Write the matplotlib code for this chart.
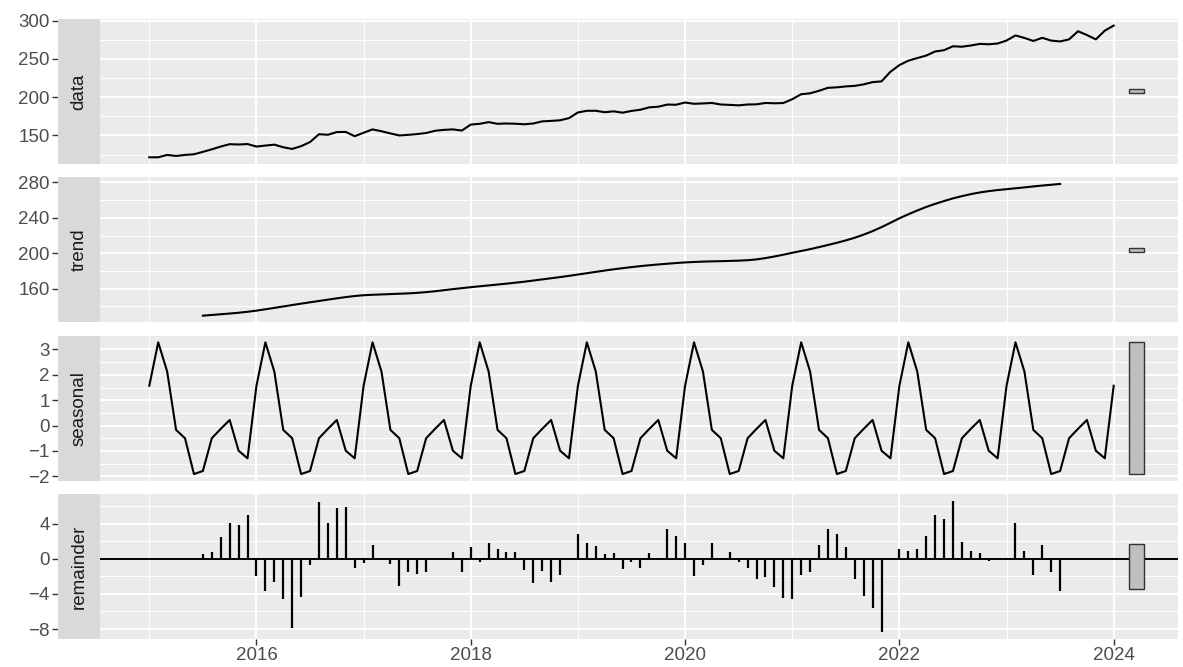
import numpy as np
import matplotlib
matplotlib.use("Agg")
import matplotlib.pyplot as plt
from matplotlib.patches import Rectangle

# monthly series, Jan 2015 .. Jan 2024
start_year = 2015
data_values = [
    121.5, 121.5, 124.6, 123.2, 124.6, 125.4, 128.6, 131.9, 135.5, 138.6, 138.2, 138.8,
    135.5, 136.8, 138.0, 134.6, 132.4, 136.0, 141.4, 151.6, 150.9, 154.4, 154.6, 149.0,
    153.5, 157.9, 155.5, 152.6, 150.0, 150.8, 151.8, 153.2, 156.1, 157.3, 157.9, 156.4,
    164.2, 165.2, 167.4, 165.2, 165.6, 165.3, 164.6, 165.6, 168.4, 169.0, 169.8, 172.6,
    180.0, 182.2, 182.2, 180.3, 181.5, 179.7, 182.0, 183.6, 186.7, 187.5, 190.3, 190.1,
    193.0, 191.3, 191.8, 192.4, 190.4, 189.9, 189.3, 190.4, 190.6, 192.4, 192.0, 192.3,
    197.3, 203.8, 205.0, 208.3, 212.2, 212.8, 214.0, 214.7, 216.7, 219.6, 220.6, 233.2,
    241.8, 247.6, 251.0, 254.2, 259.6, 261.3, 266.4, 265.8, 267.4, 269.5, 269.0, 270.0,
    273.9, 280.5, 277.3, 273.3, 277.4, 273.8, 272.7, 275.4, 286.0, 281.1, 275.4, 286.8,
    293.4,
]

# trend (Jul 2015 .. Jul 2023)
trend_offset = 6
trend_values = [
    129.4, 130.2, 131.0, 131.8, 132.7, 133.8,
    135.1, 136.6, 138.2, 139.8, 141.4, 143.0, 144.5, 146.0, 147.5, 149.0, 150.4, 151.6,
    152.5, 153.0, 153.4, 153.8, 154.2, 154.6, 155.2, 156.0, 157.0, 158.2, 159.4, 160.5,
    161.6, 162.6, 163.6, 164.6, 165.6, 166.7, 167.8, 169.1, 170.4, 171.7, 173.0, 174.4,
    175.9, 177.4, 178.9, 180.4, 181.8, 183.1, 184.3, 185.4, 186.4, 187.3, 188.1, 188.9,
    189.6, 190.1, 190.5, 190.8, 191.0, 191.3, 191.6, 192.1, 193.0, 194.5, 196.3, 198.3,
    200.5, 202.5, 204.6, 206.9, 209.3, 211.8, 214.5, 217.5, 221.0, 225.0, 229.5, 234.4,
    239.5, 244.0, 248.3, 252.3, 255.8, 259.0, 262.0, 264.5, 266.8, 268.7, 270.2, 271.4,
    272.4, 273.4, 274.4, 275.5, 276.5, 277.4, 278.3,
]

# seasonal figure, Jan .. Dec
seasonal_pattern = [1.57, 3.28, 2.13, -0.17, -0.5, -1.91, -1.79, -0.5, -0.13, 0.22, -0.99, -1.29]

remainder_values = [
    0.56, 0.82, 2.5, 4.04, 3.8, 4.97,
    -1.94, -3.66, -2.62, -4.56, -7.85, -4.3, -0.67, 6.47, 4.11, 5.79, 5.87, -1.05,
    -0.45, 1.61, 0.05, -0.56, -3.07, -1.5, -1.68, -1.5, -0.05, 0.02, 0.75, -1.53,
    1.38, -0.37, 1.76, 1.12, 0.82, 0.75, -1.31, -2.8, -1.38, -2.62, -1.87, -0.1,
    2.8, 1.79, 1.5, 0.49, 0.64, -1.12, -0.37, -1.07, 0.65, 0.05, 3.43, 2.6,
    1.8, -2.02, -0.76, 1.8, 0.0, 0.76, -0.38, -1.07, -2.36, -2.1, -3.16, -4.46,
    -4.57, -1.83, -1.52, 1.52, 3.43, 2.86, 1.33, -2.29, -4.19, -5.64, -8.38, 0.05,
    1.07, 0.84, 1.07, 2.6, 5.03, 4.5, 6.6, 1.9, 0.84, 0.69, -0.23, 0.02,
    0.05, 4.1, 0.84, -1.9, 1.52, -1.52, -3.7,
]

panel_names = ["data", "trend", "seasonal", "remainder"]
y_ticks = [[150, 200, 250, 300], [160, 200, 240, 280], [-2, -1, 0, 1, 2, 3], [-8, -4, 0, 4]]
y_minor = [[125, 175, 225, 275], [140, 180, 220, 260],
           [-1.5, -0.5, 0.5, 1.5, 2.5], [-6, -2, 2, 6]]
x_ticks = [2016, 2018, 2020, 2022, 2024]
x_minor = [2015, 2017, 2019, 2021, 2023]

n = len(data_values)
t = start_year + np.arange(n) / 12.0
t_trend = t[trend_offset:trend_offset + len(trend_values)]
seasonal_values = np.resize(seasonal_pattern, n)

series = [
    (t, np.array(data_values)),
    (t_trend, np.array(trend_values)),
    (t, seasonal_values),
    (t_trend, np.array(remainder_values)),
]

# range bars: same height in every panel
ranges = [(v.min(), v.max()) for _, v in series]
bar_half = min(hi - lo for lo, hi in ranges) / 2
bar_w = (t[-1] - t[0]) / 64
bar_left = t[-1] + bar_w

W, H = 1183, 667
fig = plt.figure(figsize=(W / 100, H / 100), dpi=100)
plt.rcParams["font.family"] = ["Liberation Sans", "DejaVu Sans"]

panel_left, panel_right = 100, 1178
strip_w = 42
top, bottom, gap = 19, 639, 13.5
ph = (bottom - top - 3 * gap) / 4

for k, name in enumerate(panel_names):
    y0 = top + k * (ph + gap)
    rect = [panel_left / W, 1 - (y0 + ph) / H, (panel_right - panel_left) / W, ph / H]
    ax = fig.add_axes(rect)
    ax.set_facecolor("#EBEBEB")
    for s in ax.spines.values():
        s.set_visible(False)

    x, v = series[k]
    lo, hi = ranges[k]
    pad = (hi - lo) * 0.05
    ax.set_ylim(lo - pad, hi + pad)
    ax.set_xlim(2014.54, 2024.60)

    ax.set_yticks(y_ticks[k])
    ax.set_yticks(y_minor[k], minor=True)
    ax.set_xticks(x_ticks)
    ax.set_xticks(x_minor, minor=True)
    ax.grid(which="major", color="white", lw=1.4)
    ax.grid(which="minor", color="white", lw=0.7)
    ax.set_axisbelow(True)

    if name == "remainder":
        ax.axhline(0, color="black", lw=1.4, zorder=2)
        ax.vlines(x, 0, v, color="black", lw=1.6, zorder=3)
    else:
        ax.plot(x, v, color="black", lw=1.5, zorder=3)

    mid = (lo + hi) / 2
    ax.add_patch(Rectangle((bar_left, mid - bar_half), bar_w, 2 * bar_half,
                           facecolor="#BFBFBF", edgecolor="#333333", lw=1.0, zorder=4))

    ax.spines["left"].set_position(("outward", strip_w * 0.72))
    ax.tick_params(axis="y", which="major", length=4, width=1, color="#333333",
                   labelcolor="#4D4D4D", labelsize=13.5, pad=2)
    ax.tick_params(which="minor", length=0)
    if name == "remainder":
        ax.tick_params(axis="x", which="major", length=4, width=1, color="#333333",
                       labelcolor="#4D4D4D", labelsize=13.5, pad=2)
        ax.set_xticklabels([str(y) for y in x_ticks])
    else:
        ax.tick_params(axis="x", which="major", length=0, labelbottom=False)

    sax = fig.add_axes([(panel_left - strip_w) / W, rect[1], strip_w / W, rect[3]])
    sax.set_facecolor("#D9D9D9")
    sax.set_xticks([])
    sax.set_yticks([])
    for s in sax.spines.values():
        s.set_visible(False)
    sax.text(0.5, 0.5, name, rotation=90, ha="center", va="center",
             color="#1A1A1A", fontsize=13.5, transform=sax.transAxes)

fig.savefig("out.png", dpi=100, facecolor="white")
